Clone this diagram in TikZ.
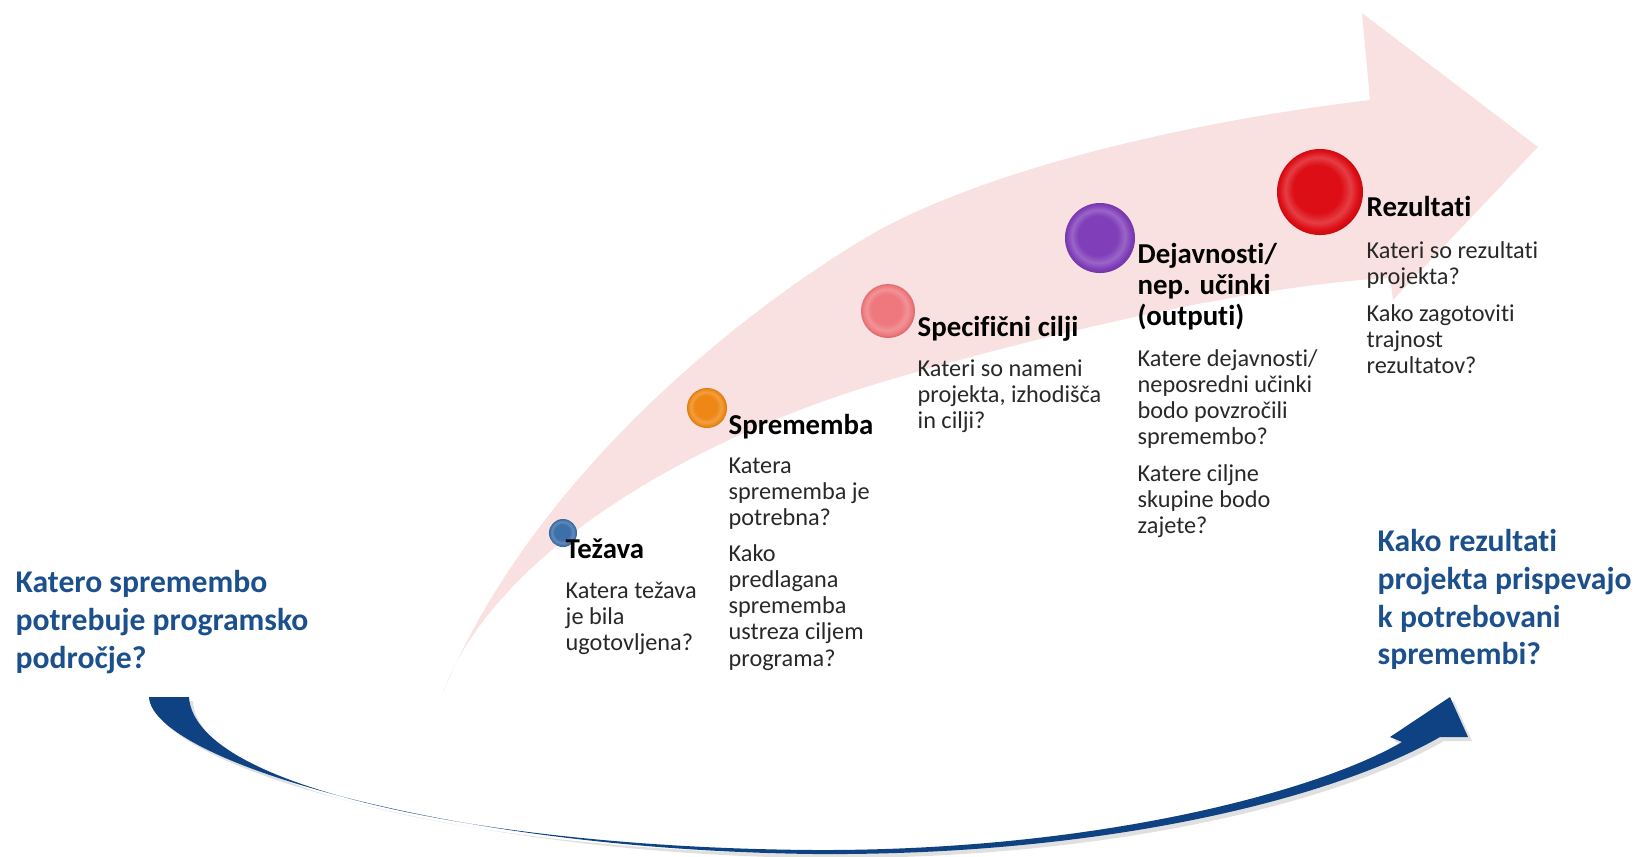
\documentclass[tikz,border=0pt]{standalone}
\usepackage{fontspec}
\setmainfont{Carlito}[Ligatures=NoCommon]
\usetikzlibrary{positioning}
\usepackage{xcolor}

\definecolor{bandpink}{RGB}{250,225,225}
\definecolor{loopblue}{RGB}{14,66,130}
\definecolor{askblue}{RGB}{28,80,140}
\definecolor{qgray}{RGB}{40,40,40}
\definecolor{tezblue}{RGB}{60,112,170}
\definecolor{sprorange}{RGB}{238,135,20}
\definecolor{specpink}{RGB}{238,120,125}
\definecolor{dejpurple}{RGB}{128,62,185}
\definecolor{rezred}{RGB}{222,14,22}

% glossy disc, colours set by the glow key
\colorlet{glosscol}{red}\colorlet{glosslight}{red}\colorlet{glossrim}{red}\colorlet{glossdark}{red}
\pgfdeclareradialshading[glosscol,glosslight,glossrim,glossdark]{gloss}{\pgfpoint{-3bp}{3bp}}{%
    color(0bp)=(glosscol); color(14bp)=(glosscol); color(19bp)=(glosslight);
    color(23bp)=(glosscol); color(26.5bp)=(glossrim); color(31bp)=(glossdark)}

\begin{document}
\begin{tikzpicture}[
    x=0.01cm, y=-0.01cm,
    glow/.code={\colorlet{glosscol}{#1}\colorlet{glosslight}{#1!80!white}%
        \colorlet{glossrim}{#1!82!black}\colorlet{glossdark}{#1!55!black}\tikzset{shading=gloss}},
    stepball/.style={circle, inner sep=0pt},
    steplbl/.style={font=\fontsize{8.2}{8.8}\selectfont\bfseries, text=black, inner sep=0pt, align=left},
    stepq/.style={font=\fontsize{6.9}{7.4}\selectfont, text=qgray, inner sep=0pt, align=left},
    askbox/.style={font=\fontsize{9}{10.7}\selectfont\bfseries, text=askblue, inner sep=0pt, align=left}
]
    \useasboundingbox (0,0) rectangle (1638,856);

    % big pale arrow
    \fill[bandpink]
        (442,695) .. controls (530,480) and (740,310) .. (879,230)
        .. controls (1000,165) and (1200,120) .. (1370,100)
        -- (1362,13) -- (1538,147) -- (1393,300) -- (1390,278)
        .. controls (1250,285) and (1029,338) .. (879,383)
        .. controls (679,443) and (490,560) .. (442,695) -- cycle;

    % blue loop arrow
    \fill[black, opacity=0.12]
        (153,701) .. controls (156,764) and (454,854) .. (819,858)
        .. controls (1104,860) and (1334,804) .. (1444,741)
        -- (1472,741) -- (1454,701) -- (1394,741) -- (1406,746)
        .. controls (1324,794) and (1104,855) .. (819,854)
        .. controls (504,852) and (199,794) .. (193,701) -- cycle;
    \fill[loopblue]
        (149,697) .. controls (152,760) and (450,850) .. (815,854)
        .. controls (1100,856) and (1330,800) .. (1440,737)
        -- (1468,737) -- (1450,697) -- (1390,737) -- (1402,742)
        .. controls (1320,790) and (1100,851) .. (815,850)
        .. controls (500,848) and (195,790) .. (189,697) -- cycle;

    % balls
    \node[stepball, glow=tezblue, minimum size=0.28cm] (tezava-ball) at (563,533) {};
    \node[stepball, glow=sprorange, minimum size=0.40cm] (sprememba-ball) at (707,408) {};
    \node[stepball, glow=specpink, minimum size=0.54cm] (cilji-ball) at (888,311) {};
    \node[stepball, glow=dejpurple, minimum size=0.70cm] (dejavnosti-ball) at (1100,238) {};
    \node[stepball, glow=rezred, minimum size=0.86cm] (rezultati-ball) at (1320,192) {};

    % step labels
    \node[steplbl, anchor=base west] (tezava-lbl) at (565,558) {Težava};
    \node[steplbl, anchor=base west] (sprememba-lbl) at (728,434) {Sprememba};
    \node[steplbl, anchor=base west] (cilji-lbl) at (917,336) {Specifični cilji};
    \node[steplbl, anchor=north west] (dejavnosti-lbl) at (1137,243) {Dejavnosti/\\nep. učinki\\(outputi)};
    \node[steplbl, anchor=base west] (rezultati-lbl) at (1366,216) {Rezultati};

    % questions
    \node[stepq, anchor=north west] (tezava-q) at (565,581) {Katera težava\\je bila\\ugotovljena?};
    \node[stepq, anchor=north west] (sprememba-q) at (728,457)
        {Katera\\sprememba je\\potrebna?\\[3pt]Kako\\predlagana\\sprememba\\ustreza ciljem\\programa?};
    \node[stepq, anchor=north west] (cilji-q) at (917,359) {Kateri so nameni\\projekta, izhodišča\\in cilji?};
    \node[stepq, anchor=north west] (dejavnosti-q) at (1137,349)
        {Katere dejavnosti/\\neposredni učinki\\bodo povzročili\\spremembo?\\[3pt]Katere ciljne\\skupine bodo\\zajete?};
    \node[stepq, anchor=north west] (rezultati-q) at (1366,241)
        {Kateri so rezultati\\projekta?\\[3pt]Kako zagotoviti\\trajnost\\rezultatov?};

    % side questions
    \node[askbox, anchor=north west] (need-ask) at (15,570) {Katero spremembo\\potrebuje programsko\\področje?};
    \node[askbox, anchor=north west] (contrib-ask) at (1377,529) {Kako rezultati\\projekta prispevajo\\k potrebovani\\spremembi?};
\end{tikzpicture}
\end{document}
